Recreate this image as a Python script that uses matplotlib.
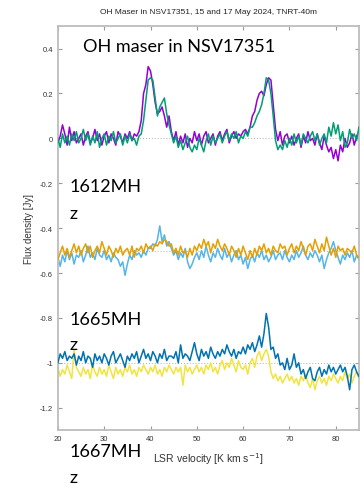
import numpy as np
import matplotlib.pyplot as plt

plt.rcParams['axes.unicode_minus'] = False

# LSR velocity channels (km/s), 0.5 km/s spacing
velocity = np.arange(20.0, 85.01, 0.5)

# 1612 MHz, two epochs (Jy)
flux_1612_a = [
    -0.02, 0.01, 0.06, 0.02, -0.03, 0.05, -0.01, 0.03, -0.02, 0.00,
    0.02, -0.03, 0.01, 0.03, -0.02, 0.00, 0.04, -0.01, 0.02, -0.03,
    0.01, 0.03, -0.02, 0.02, 0.00, -0.03, 0.03, 0.01, -0.02, 0.02,
    0.00, 0.03, -0.01, 0.02, 0.01, 0.03, 0.08, 0.20, 0.24, 0.32,
    0.30, 0.24, 0.16, 0.11, 0.12, 0.14, 0.10, 0.05, 0.10, 0.03,
    -0.01, 0.03, -0.03, 0.01, -0.02, 0.02, -0.04, 0.00, -0.02, 0.03,
    -0.01, 0.02, -0.03, 0.01, 0.03, -0.02, 0.00, 0.02, -0.03, 0.01,
    0.03, -0.01, 0.02, 0.04, -0.02, 0.01, 0.03, 0.00, 0.02, 0.01,
    0.03, 0.04, 0.02, 0.05, 0.10, 0.12, 0.17, 0.20, 0.21, 0.19,
    0.24, 0.27, 0.26, 0.15, 0.04, -0.01, 0.03, -0.03, 0.01, 0.02,
    -0.02, 0.01, -0.03, 0.00, 0.02, -0.04, 0.01, -0.02, 0.03, -0.01,
    0.00, -0.03, 0.02, -0.02, -0.05, 0.01, -0.03, -0.06, -0.04, -0.09,
    -0.05, -0.10, -0.03, -0.06, 0.00, -0.04, -0.02, 0.02, -0.03, 0.01,
    0.03,
]
flux_1612_b = [
    0.00, -0.04, 0.02, -0.02, 0.01, -0.03, 0.02, -0.01, 0.03, -0.02,
    0.00, 0.04, -0.01, 0.02, -0.03, 0.01, -0.02, 0.03, -0.04, 0.00,
    0.02, -0.03, 0.01, -0.01, 0.03, -0.02, 0.00, 0.02, -0.03, 0.01,
    -0.02, 0.02, -0.01, 0.00, -0.03, 0.01, 0.02, 0.08, 0.17, 0.26,
    0.27, 0.26, 0.18, 0.10, 0.14, 0.16, 0.18, 0.11, 0.06, 0.02,
    -0.02, 0.01, -0.04, -0.01, -0.05, -0.02, 0.01, -0.04, -0.06, -0.03,
    -0.05, 0.00, -0.03, -0.06, -0.01, 0.02, -0.03, 0.01, -0.02, 0.00,
    0.02, -0.02, 0.01, 0.03, -0.01, 0.02, 0.00, 0.03, -0.02, 0.01,
    0.00, 0.03, 0.01, 0.05, 0.05, 0.07, 0.10, 0.12, 0.15, 0.20,
    0.27, 0.26, 0.20, 0.10, -0.01, -0.05, -0.03, -0.05, -0.01, -0.04,
    0.00, -0.03, 0.02, -0.02, 0.01, -0.03, 0.02, 0.00, -0.02, 0.01,
    0.03, -0.01, 0.02, -0.03, 0.00, 0.02, -0.02, 0.05, 0.01, 0.07,
    0.02, 0.06, -0.01, 0.03, -0.04, -0.02, 0.04, 0.00, 0.02, -0.01,
    0.05,
]

# 1665 MHz
flux_1665_a = [
    -0.03, -0.07, -0.02, -0.05, 0.00, -0.04, -0.01, -0.06, -0.02, -0.03,
    0.00, -0.05, -0.02, 0.02, -0.03, -0.01, -0.04, 0.01, -0.02, -0.03,
    0.00, -0.04, -0.02, -0.05, -0.01, -0.03, -0.04, -0.07, -0.05, -0.11,
    -0.06, -0.02, -0.04, 0.00, -0.02, -0.01, -0.03, 0.00, -0.02, 0.01,
    0.01, 0.03, 0.02, 0.05, 0.11, 0.04, 0.07, 0.02, 0.04, 0.01,
    -0.02, 0.00, -0.04, -0.01, -0.03, 0.01, -0.05, -0.08, -0.06, -0.03,
    -0.01, -0.04, 0.00, -0.03, 0.02, -0.02, -0.05, -0.01, -0.03, 0.01,
    -0.02, -0.04, 0.01, -0.03, -0.01, -0.05, -0.02, 0.00, -0.04, -0.02,
    -0.06, -0.03, -0.08, -0.04, -0.02, -0.05, -0.01, -0.03, 0.00, -0.04,
    -0.02, -0.05, -0.03, 0.00, -0.04, -0.02, -0.01, -0.04, 0.00, -0.03,
    -0.05, -0.02, -0.04, 0.00, -0.03, -0.01, 0.02, -0.02, -0.04, -0.01,
    -0.03, 0.00, -0.02, -0.05, -0.02, -0.08, -0.04, -0.01, 0.01, 0.04,
    0.00, -0.03, -0.06, -0.02, -0.04, -0.01, -0.03, 0.00, -0.05, -0.02,
    -0.04,
]
flux_1665_b = [
    -0.04, -0.01, 0.02, -0.02, 0.01, -0.03, 0.00, 0.03, -0.01, 0.02,
    -0.02, 0.01, 0.03, -0.01, 0.02, -0.03, 0.00, 0.02, -0.01, 0.04,
    0.01, -0.02, 0.02, 0.00, -0.03, 0.01, -0.01, 0.02, -0.02, 0.00,
    0.01, -0.02, 0.02, -0.03, 0.01, 0.00, 0.02, -0.01, 0.03, 0.01,
    0.02, 0.00, 0.03, 0.02, 0.04, 0.03, 0.05, 0.04, 0.02, 0.03,
    -0.01, 0.01, -0.02, 0.02, -0.01, 0.00, -0.03, 0.01, -0.02, 0.02,
    0.00, 0.03, 0.01, 0.05, 0.02, 0.04, -0.01, 0.03, 0.01, 0.05,
    0.02, 0.00, 0.03, 0.01, -0.02, 0.02, 0.00, -0.03, 0.01, -0.02,
    0.02, -0.01, -0.04, 0.00, -0.03, 0.01, -0.02, 0.02, 0.00, 0.03,
    -0.01, 0.01, -0.02, 0.02, 0.00, -0.01, 0.03, 0.01, 0.02, -0.02,
    0.01, 0.03, -0.01, 0.02, 0.00, 0.04, 0.01, -0.02, 0.02, 0.03,
    0.00, 0.05, 0.02, -0.01, 0.03, 0.00, 0.06, 0.02, -0.02, 0.01,
    -0.03, 0.02, 0.00, 0.01, -0.02, 0.01, 0.00, -0.01, 0.02, -0.02,
    -0.03,
]

# 1667 MHz
flux_1667_a = [
    -0.02, -0.06, -0.03, -0.05, -0.01, -0.04, -0.07, 0.06, -0.02, -0.04,
    -0.06, -0.02, -0.05, -0.03, -0.07, -0.01, -0.04, -0.06, -0.02, -0.05,
    -0.03, -0.06, -0.01, -0.04, -0.07, -0.02, -0.05, -0.03, -0.06, -0.02,
    -0.04, -0.01, -0.05, -0.03, -0.06, -0.02, -0.04, -0.01, -0.03, -0.05,
    -0.02, -0.04, -0.01, -0.05, -0.03, -0.06, -0.02, -0.04, -0.01, -0.03,
    -0.05, -0.02, -0.04, -0.02, -0.10, -0.01, -0.04, -0.02, -0.05, -0.03,
    -0.01, -0.04, -0.02, -0.05, -0.01, -0.03, 0.00, -0.04, -0.02, -0.05,
    -0.01, 0.01, -0.03, 0.00, -0.02, 0.02, -0.01, -0.04, 0.01, -0.02,
    -0.03, -0.01, -0.05, 0.00, 0.02, -0.02, 0.03, 0.05, 0.01, 0.04,
    0.06, 0.03, -0.04, -0.07, -0.05, -0.08, -0.06, -0.09, -0.07, -0.05,
    -0.08, -0.06, -0.09, -0.07, -0.10, -0.06, -0.08, -0.05, -0.09, -0.11,
    -0.07, -0.12, -0.08, -0.06, -0.09, -0.07, -0.10, -0.06, -0.08, -0.05,
    -0.07, -0.09, -0.06, -0.08, -0.04, -0.07, -0.05, -0.09, -0.06, -0.04,
    -0.07,
]
flux_1667_b = [
    0.00, 0.04, 0.02, 0.05, 0.01, 0.03, 0.02, 0.04, -0.01, 0.03,
    0.01, 0.05, 0.00, 0.03, 0.02, -0.02, 0.04, 0.01, 0.03, 0.00,
    0.04, 0.02, -0.01, 0.03, 0.05, 0.00, 0.02, 0.04, 0.01, -0.02,
    0.03, 0.01, 0.04, 0.02, 0.05, 0.00, 0.03, 0.06, 0.02, 0.04,
    0.01, 0.05, 0.03, 0.00, 0.04, 0.02, 0.06, 0.01, 0.03, 0.03,
    0.02, 0.05, 0.00, 0.08, 0.02, 0.04, 0.03, 0.01, 0.05, 0.09,
    0.04, 0.01, 0.06, 0.03, 0.05, 0.02, 0.07, 0.04, 0.02, 0.05,
    0.03, 0.06, 0.04, 0.08, 0.05, 0.03, 0.06, 0.02, 0.05, 0.04,
    0.07, 0.04, 0.08, 0.06, 0.09, 0.05, 0.08, 0.12, 0.07, 0.13,
    0.22, 0.16, 0.06, 0.07, 0.02, 0.04, -0.01, 0.00, -0.03, 0.02,
    -0.03, -0.01, 0.04, -0.02, 0.00, -0.05, -0.03, -0.07, -0.04, -0.02,
    -0.07, -0.08, -0.04, -0.02, -0.06, -0.03, -0.05, -0.01, -0.04, -0.02,
    -0.05, -0.03, -0.01, -0.04, -0.02, -0.06, -0.12, -0.03, -0.01, -0.04,
    -0.06,
]

offsets = [0.0, -0.5, -1.0]
pairs = [
    (flux_1612_a, flux_1612_b, '#9400D3', '#009E73'),
    (flux_1665_a, flux_1665_b, '#56B4E9', '#E69F00'),
    (flux_1667_a, flux_1667_b, '#F0E442', '#0072B2'),
]
band_labels = ['1612MH', '1665MH', '1667MH']

fig = plt.figure(figsize=(3.64, 4.85), dpi=100)
ax = fig.add_axes([0.159, 0.111, 0.827, 0.833])

for off, (a, b, ca, cb) in zip(offsets, pairs):
    ax.axhline(off, color='#b0b0b0', lw=0.7, ls=(0, (1, 2)), zorder=1)
    ax.plot(velocity, np.array(a) + off, color=ca, lw=1.1, zorder=2)
    ax.plot(velocity, np.array(b) + off, color=cb, lw=1.1, zorder=3)

ax.set_xlim(20, 85)
ax.set_ylim(-1.3, 0.5)
ax.set_xticks(np.arange(20, 81, 10))
ax.set_yticks(np.arange(-1.2, 0.41, 0.2))
ax.set_yticklabels(['-1.2', '-1', '-0.8', '-0.6', '-0.4', '-0.2', '0', '0.2', '0.4'])

for s in ax.spines.values():
    s.set_color('#bdbdbd')
    s.set_linewidth(1.3)
ax.tick_params(direction='in', length=3, width=0.8, color='#9a9a9a',
               top=True, right=True, labelsize=5.5, labelcolor='#333333')
for lab in ax.get_xticklabels() + ax.get_yticklabels():
    lab.set_family('Liberation Sans')

ax.set_ylabel('Flux density [Jy]', fontsize=7, family='Liberation Sans',
              color='#333333', labelpad=4)
ax.set_xlabel('LSR velocity [K km s$^{-1}$]', fontsize=7.5,
              family='Liberation Sans', color='#333333', labelpad=6)

fig.text(208 / 364, 1 - 12 / 485, 'OH Maser in NSV17351, 15 and 17 May 2024, TNRT-40m',
         ha='center', va='center', fontsize=6, family='Liberation Sans', color='#222222')

fig.text(83 / 364, 1 - 52 / 485, 'OH maser in NSV17351', fontsize=13,
         family='Lato', va='baseline', color='black')

label_rows = [(192, 219), (325, 350), (457, 483)]
for text, (y1, y2) in zip(band_labels, label_rows):
    fig.text(70 / 364, 1 - y1 / 485, text, fontsize=13, family='Lato',
             va='baseline', color='black')
    fig.text(70 / 364, 1 - y2 / 485, 'z', fontsize=13, family='Lato',
             va='baseline', color='black')

fig.savefig('out.png', dpi=100)
